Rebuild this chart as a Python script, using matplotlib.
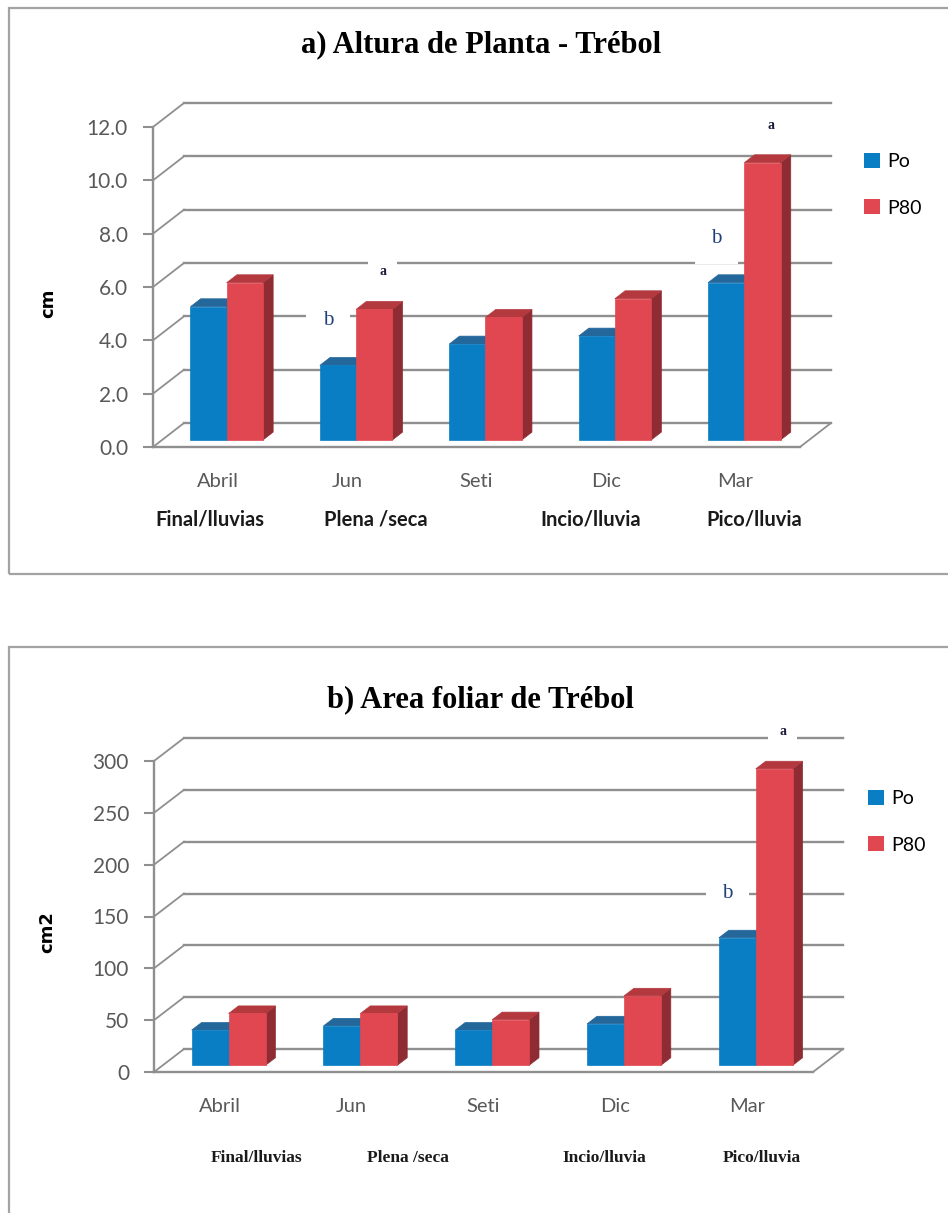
import matplotlib
matplotlib.use("Agg")
import matplotlib.pyplot as plt
from matplotlib.patches import Polygon, Patch, Rectangle

# datos
meses = ["Abril", "Jun", "Seti", "Dic", "Mar"]
epocas = ["Final/lluvias", "Plena /seca", "", "Incio/lluvia", "Pico/lluvia"]
series = ["Po", "P80"]

altura_po = [5.0, 2.8, 3.6, 3.9, 5.9]
altura_p80 = [5.9, 4.9, 4.6, 5.3, 10.4]
altura_ticks = [0, 2, 4, 6, 8, 10, 12]

area_po = [34, 38, 34, 40, 123]
area_p80 = [50, 50, 44, 67, 286]
area_ticks = [0, 50, 100, 150, 200, 250, 300]

# letras de significancia: (mes, serie, letra)
letras_altura = [(1, 0, "b"), (1, 1, "a"), (4, 0, "b"), (4, 1, "a")]
letras_area = [(4, 0, "b"), (4, 1, "a")]

# colores (frente, arriba, costado)
AZUL = ("#0A7EC4", "#24679B", "#1B5A88")
ROJO = ("#E14750", "#B4393F", "#8F2C33")
GRIS = "#8F8F8F"
TXT = "#595959"

W, H = 948, 1213
fig = plt.figure(figsize=(W / 100, H / 100), dpi=100)
fig.patch.set_facecolor("white")


def px_axes(left, top, right, bottom):
    return fig.add_axes([left / W, 1 - bottom / H, (right - left) / W, (bottom - top) / H])


def barra(ax, x0, w, v, cols, d, f0=0.29, f1=0.62, z=5):
    ddx, ddy = d
    ax0, ay0 = x0 + f0 * ddx, f0 * ddy
    bx, by = f1 * ddx, f1 * ddy
    frente = [(ax0, ay0), (ax0 + w, ay0), (ax0 + w, v + ay0), (ax0, v + ay0)]
    arriba = [(ax0, v + ay0), (ax0 + w, v + ay0), (x0 + w + bx, v + by), (x0 + bx, v + by)]
    lado = [(ax0 + w, ay0), (x0 + w + bx, by), (x0 + w + bx, v + by), (ax0 + w, v + ay0)]
    for pts, c in ((lado, cols[2]), (arriba, cols[1]), (frente, cols[0])):
        ax.add_patch(Polygon(pts, closed=True, fc=c, ec=c, lw=0.5, zorder=z, clip_on=False))


def panel(caja, ax_px, depth_px, po, p80, ticks, fmt, ylab, titulo, titulo_y,
          lab1_y, lab2_y, lab2_x, lab2_font, letras, ley_xy):
    # marco del grafico
    fig.add_artist(Rectangle((caja[0] / W, 1 - caja[3] / H), (caja[2] - caja[0]) / W,
                             (caja[3] - caja[1]) / H, transform=fig.transFigure,
                             fill=False, ec="#A3A3A3", lw=1.6))
    ax = px_axes(*ax_px)
    n = len(meses)
    ax.set_xlim(0, n)
    ax.set_ylim(ticks[0], ticks[-1])
    fig.canvas.draw()
    bb = ax.get_window_extent()
    ddx = depth_px[0] * n / bb.width
    ddy = depth_px[1] * (ticks[-1] - ticks[0]) / bb.height
    d = (ddx, ddy)

    # pared del fondo y diagonales
    for t in ticks:
        ax.plot([ddx, n + ddx], [t + ddy, t + ddy], color=GRIS, lw=1.7, zorder=1, clip_on=False)
        ax.plot([0, ddx], [t, t + ddy], color=GRIS, lw=1.3, zorder=1, clip_on=False)
    # piso
    ax.plot([n, n + ddx], [0, ddy], color=GRIS, lw=1.3, zorder=1, clip_on=False)

    for s in ["top", "right"]:
        ax.spines[s].set_visible(False)
    for s in ["left", "bottom"]:
        ax.spines[s].set_color(GRIS)
        ax.spines[s].set_linewidth(1.7)
    ax.set_xticks([])
    ax.set_yticks(ticks)
    ax.set_yticklabels([fmt.format(t) for t in ticks])
    ax.tick_params(axis="y", length=7, width=1.5, color=GRIS, pad=11,
                   labelsize=15, labelcolor=TXT)
    for lb in ax.get_yticklabels():
        lb.set_fontfamily("Lato")
    ax.patch.set_alpha(0)

    ancho = 0.28
    for i in range(n):
        barra(ax, i + 0.5 - ancho, ancho, po[i], AZUL, d, z=5 + 2 * i)
        barra(ax, i + 0.5, ancho, p80[i], ROJO, d, z=6 + 2 * i)

    # letras sobre las barras
    vals = [po, p80]
    for i, s, letra in letras:
        xc = i + 0.5 + (s - 1) * ancho + ancho / 2 + 0.29 * ddx
        yv = vals[s][i] + 0.29 * ddy
        dx = -7 if letra == "b" else 6
        dy = 32 if letra == "b" else 27
        ax.annotate(letra, (xc, yv), xytext=(dx, dy), textcoords="offset points",
                    ha="center", va="center", fontsize=15 if letra == "b" else 10,
                    fontweight="normal" if letra == "b" else "bold",
                    family="Liberation Serif", color="#1F3F7A" if letra == "b" else "#1A1A3A",
                    bbox=dict(boxstyle="square,pad=0.8", fc="white", ec="none"),
                    zorder=3, annotation_clip=False)

    # etiquetas del eje x
    tr = ax.get_xaxis_transform()
    for i in range(n):
        ax.text(i + 0.5, lab1_y, meses[i], transform=tr, ha="center", va="center",
                fontsize=14.5, color=TXT, family="Lato")
        if epocas[i]:
            ax.text(lab2_x[i], lab2_y, epocas[i], transform=tr, ha="center", va="center",
                    fontsize=lab2_font[1], fontweight="bold", color="#1A1A1A",
                    family=lab2_font[0])

    ax.set_ylabel(ylab, fontsize=13, fontweight="bold", family="DejaVu Sans", labelpad=0)
    ax.yaxis.set_label_coords(-0.148, 0.45)

    fig.text(0.507, 1 - titulo_y / H, titulo, ha="center", va="center", fontsize=22,
             fontweight="bold", family="Liberation Serif")

    hs = [Patch(fc=AZUL[0], ec="none"), Patch(fc=ROJO[0], ec="none")]
    fig.legend(hs, series, loc="upper left",
               bbox_to_anchor=(ley_xy[0] / W, 1 - ley_xy[1] / H),
               frameon=False, handlelength=0.8, handleheight=0.8,
               handletextpad=0.4, labelspacing=1.5, borderpad=0, borderaxespad=0,
               prop={"family": "Lato", "size": 14})
    return ax


panel((9, 8, 960, 574), (153, 127, 800, 447), (31, 24),
      altura_po, altura_p80, altura_ticks, "{:.1f}", "cm",
      "a) Altura de Planta - Trébol", 45, -0.109, -0.228,
      [0.44, 1.72, 2.5, 3.38, 4.65], ("Lato", 14.5), letras_altura, (864, 153))

panel((9, 647, 960, 1230), (154, 761, 813, 1072), (30, 23),
      area_po, area_p80, area_ticks, "{:d}", "cm2",
      "b) Area foliar de Trébol", 700, -0.1125, -0.2765,
      [0.78, 1.93, 2.5, 3.42, 4.61], ("Liberation Serif", 12.5), letras_area, (868, 790))

fig.savefig("out.png", dpi=100)
